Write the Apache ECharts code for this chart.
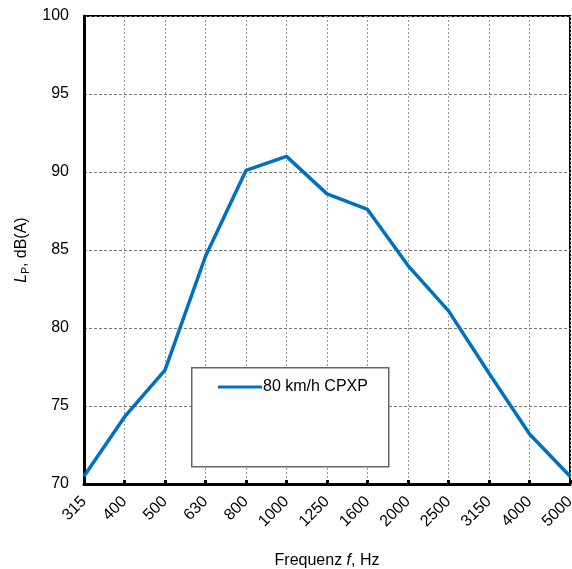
<!DOCTYPE html>
<html>
<head>
<meta charset="utf-8">
<script src="https://cdn.jsdelivr.net/npm/echarts@6/dist/echarts.min.js"></script>
<style>
html, body { margin: 0; padding: 0; background: #fff; }
#chart { width: 572px; height: 569px; }
</style>
</head>
<body>
<div id="chart"></div>
<script>
// Terzband-Frequenzen und Pegel
var frequencies = ['315', '400', '500', '630', '800', '1000', '1250', '1600', '2000', '2500', '3150', '4000', '5000'];
var levels = [70.5, 74.3, 77.3, 84.6, 90.1, 91.0, 88.6, 87.6, 84.0, 81.1, 77.1, 73.2, 70.5];
var seriesName = '80 km/h CPXP';
var yTicks = [70, 75, 80, 85, 90, 95, 100];

var myChart = echarts.init(document.getElementById('chart'));

var option = {
    animation: false,
    textStyle: { fontFamily: 'Liberation Sans, Arial, sans-serif' },
    grid: {
        left: 84,
        right: 2,
        top: 16,
        bottom: 85,
        containLabel: false,
        outerBoundsMode: 'none',
        show: true,
        borderColor: '#000',
        borderWidth: 2
    },
    graphic: [{
        type: 'rect',
        left: 191,
        top: 367,
        shape: { width: 197, height: 99 },
        style: { fill: '#fff', stroke: '#666', lineWidth: 1.5 },
        z: 10
    }],
    legend: {
        data: [seriesName],
        left: 213,
        top: 374,
        icon: 'rect',
        itemWidth: 44,
        itemHeight: 3,
        itemGap: 0,
        z: 20,
        textStyle: { fontSize: 16, color: '#000', padding: [0, 0, 0, -4] }
    },
    xAxis: {
        type: 'category',
        boundaryGap: false,
        data: frequencies,
        name: '{n|Frequenz }{i|f}{n|, Hz}',
        nameLocation: 'middle',
        nameGap: 69,
        nameTextStyle: {
            rich: {
                n: { fontSize: 16, color: '#000' },
                i: { fontSize: 16, color: '#000', fontStyle: 'italic' }
            }
        },
        axisLine: { lineStyle: { color: '#000', width: 3 } },
        axisTick: { inside: true, length: 4, lineStyle: { color: '#000', width: 3 } },
        axisLabel: { rotate: 45, fontSize: 16, color: '#000', margin: 15 },
        splitLine: { show: true, lineStyle: { color: '#999', type: [2, 2], width: 1 } }
    },
    yAxis: {
        type: 'value',
        min: 70,
        max: 100,
        interval: 5,
        name: '{i|L}{s|P}{n|, dB(A)}',
        nameLocation: 'middle',
        nameGap: 53,
        nameRotate: 90,
        nameTextStyle: {
            rich: {
                n: { fontSize: 16, color: '#000' },
                i: { fontSize: 16, color: '#000', fontStyle: 'italic' },
                s: { fontSize: 10, color: '#000', verticalAlign: 'bottom', padding: [8, 0, 0, 0] }
            }
        },
        axisLine: { show: true, lineStyle: { color: '#000', width: 3 } },
        axisTick: { show: false },
        axisLabel: {
            fontSize: 16,
            color: '#000',
            margin: 15,
            formatter: function (v) { return yTicks.indexOf(v) >= 0 ? String(v) : ''; }
        },
        splitLine: { show: true, lineStyle: { color: '#777', type: [3, 2], width: 1 } }
    },
    series: [{
        name: seriesName,
        type: 'line',
        data: levels,
        showSymbol: false,
        symbol: 'none',
        lineStyle: { color: '#0070C0', width: 3.5 },
        itemStyle: { color: '#0070C0' },
        z: 5
    }]
};

myChart.setOption(option);
</script>
</body>
</html>
